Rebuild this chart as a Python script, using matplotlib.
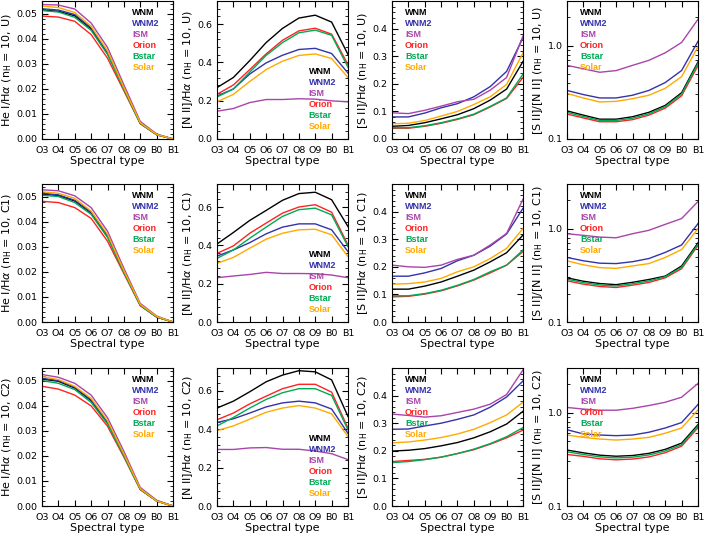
import matplotlib
matplotlib.use("Agg")
import matplotlib.pyplot as plt
from matplotlib.ticker import AutoMinorLocator, LogLocator, NullFormatter, FixedLocator

plt.rcParams['font.family'] = ['DejaVu Sans']

# Veriler
types = ["O3", "O4", "O5", "O6", "O7", "O8", "O9", "B0", "B1"]
models = ["WNM", "WNM2", "ISM", "Orion", "Bstar", "Solar"]
colors = ["#000000", "#3333aa", "#aa44aa", "#ff2222", "#00aa55", "#ffaa00"]

# He I / Halpha  (sira: WNM, WNM2, ISM, Orion, Bstar, Solar)
hei_U = [
    [0.0514, 0.0509, 0.0491, 0.0439, 0.0342, 0.0201, 0.0063, 0.0017, 0.0],
    [0.0519, 0.0514, 0.0496, 0.0443, 0.0345, 0.0203, 0.0064, 0.0018, 0.0],
    [0.0536, 0.0534, 0.0518, 0.0462, 0.0365, 0.0216, 0.0070, 0.0020, 0.0],
    [0.0490, 0.0486, 0.0469, 0.0416, 0.0322, 0.0192, 0.0061, 0.0017, 0.0],
    [0.0512, 0.0506, 0.0485, 0.0433, 0.0337, 0.0198, 0.0062, 0.0017, 0.0],
    [0.0530, 0.0524, 0.0504, 0.0449, 0.0351, 0.0205, 0.0065, 0.0018, 0.0],
]
hei_C1 = [
    [0.0510, 0.0504, 0.0482, 0.0435, 0.0342, 0.0201, 0.0067, 0.0020, 0.0],
    [0.0513, 0.0507, 0.0485, 0.0438, 0.0345, 0.0203, 0.0068, 0.0020, 0.0],
    [0.0527, 0.0523, 0.0503, 0.0456, 0.0362, 0.0214, 0.0074, 0.0024, 0.0],
    [0.0481, 0.0476, 0.0456, 0.0413, 0.0322, 0.0193, 0.0065, 0.0020, 0.0],
    [0.0505, 0.0500, 0.0476, 0.0429, 0.0337, 0.0198, 0.0066, 0.0020, 0.0],
    [0.0519, 0.0513, 0.0493, 0.0442, 0.0350, 0.0205, 0.0070, 0.0022, 0.0],
]
hei_C2 = [
    [0.0506, 0.0497, 0.0470, 0.0420, 0.0332, 0.0203, 0.0067, 0.0020, 0.0],
    [0.0509, 0.0500, 0.0473, 0.0423, 0.0335, 0.0205, 0.0068, 0.0020, 0.0],
    [0.0524, 0.0513, 0.0489, 0.0442, 0.0352, 0.0218, 0.0074, 0.0023, 0.0],
    [0.0477, 0.0466, 0.0442, 0.0399, 0.0318, 0.0195, 0.0065, 0.0020, 0.0],
    [0.0500, 0.0489, 0.0464, 0.0413, 0.0327, 0.0200, 0.0066, 0.0020, 0.0],
    [0.0516, 0.0504, 0.0477, 0.0429, 0.0340, 0.0208, 0.0069, 0.0020, 0.0],
]

# [N II] / Halpha
nii_U = [
    [0.268, 0.321, 0.409, 0.503, 0.577, 0.631, 0.646, 0.610, 0.441],
    [0.224, 0.261, 0.339, 0.397, 0.437, 0.467, 0.473, 0.446, 0.344],
    [0.145, 0.159, 0.190, 0.206, 0.206, 0.210, 0.208, 0.199, 0.194],
    [0.233, 0.282, 0.362, 0.444, 0.515, 0.564, 0.578, 0.547, 0.388],
    [0.219, 0.261, 0.349, 0.436, 0.503, 0.554, 0.568, 0.541, 0.374],
    [0.194, 0.233, 0.300, 0.362, 0.406, 0.436, 0.444, 0.420, 0.321],
]
nii_C1 = [
    [0.407, 0.467, 0.530, 0.582, 0.635, 0.670, 0.677, 0.638, 0.498],
    [0.344, 0.376, 0.414, 0.460, 0.495, 0.512, 0.512, 0.481, 0.367],
    [0.231, 0.240, 0.248, 0.259, 0.253, 0.253, 0.252, 0.245, 0.231],
    [0.358, 0.397, 0.463, 0.516, 0.568, 0.600, 0.612, 0.573, 0.402],
    [0.332, 0.376, 0.437, 0.495, 0.551, 0.586, 0.594, 0.559, 0.393],
    [0.306, 0.337, 0.385, 0.432, 0.463, 0.481, 0.484, 0.455, 0.341],
]
nii_C2 = [
    [0.511, 0.547, 0.596, 0.648, 0.683, 0.706, 0.700, 0.658, 0.467],
    [0.436, 0.455, 0.485, 0.517, 0.538, 0.547, 0.538, 0.506, 0.379],
    [0.295, 0.295, 0.303, 0.305, 0.296, 0.296, 0.287, 0.273, 0.242],
    [0.450, 0.485, 0.533, 0.573, 0.612, 0.635, 0.635, 0.594, 0.406],
    [0.418, 0.462, 0.511, 0.556, 0.591, 0.612, 0.612, 0.577, 0.397],
    [0.393, 0.418, 0.453, 0.489, 0.511, 0.524, 0.511, 0.481, 0.362],
]

# [S II] / Halpha
sii_U = [
    [0.046, 0.049, 0.059, 0.073, 0.088, 0.110, 0.141, 0.181, 0.281],
    [0.080, 0.080, 0.094, 0.113, 0.128, 0.153, 0.190, 0.245, 0.367],
    [0.095, 0.092, 0.104, 0.119, 0.135, 0.144, 0.177, 0.223, 0.373],
    [0.039, 0.039, 0.046, 0.057, 0.071, 0.088, 0.116, 0.147, 0.223],
    [0.041, 0.041, 0.048, 0.059, 0.073, 0.090, 0.118, 0.149, 0.235],
    [0.055, 0.057, 0.067, 0.083, 0.100, 0.125, 0.153, 0.198, 0.312],
]
sii_C1 = [
    [0.119, 0.119, 0.130, 0.145, 0.166, 0.188, 0.218, 0.251, 0.315],
    [0.166, 0.166, 0.178, 0.194, 0.222, 0.242, 0.275, 0.319, 0.412],
    [0.206, 0.200, 0.198, 0.206, 0.227, 0.242, 0.279, 0.321, 0.445],
    [0.091, 0.093, 0.101, 0.113, 0.131, 0.152, 0.178, 0.206, 0.255],
    [0.095, 0.095, 0.103, 0.115, 0.133, 0.154, 0.182, 0.206, 0.261],
    [0.137, 0.139, 0.145, 0.158, 0.182, 0.200, 0.230, 0.267, 0.339],
]
sii_C2 = [
    [0.199, 0.202, 0.208, 0.218, 0.230, 0.247, 0.269, 0.297, 0.343],
    [0.278, 0.279, 0.290, 0.300, 0.314, 0.330, 0.358, 0.395, 0.453],
    [0.333, 0.328, 0.322, 0.327, 0.339, 0.351, 0.369, 0.404, 0.493],
    [0.161, 0.165, 0.169, 0.177, 0.190, 0.204, 0.224, 0.247, 0.275],
    [0.157, 0.161, 0.168, 0.177, 0.190, 0.206, 0.226, 0.251, 0.284],
    [0.229, 0.232, 0.239, 0.248, 0.261, 0.278, 0.302, 0.330, 0.376],
]

# [S II] / [N II]
ratio_U = [
    [0.200, 0.180, 0.163, 0.163, 0.173, 0.193, 0.229, 0.313, 0.667],
    [0.331, 0.299, 0.275, 0.275, 0.294, 0.331, 0.402, 0.541, 1.11],
    [0.614, 0.564, 0.518, 0.540, 0.614, 0.695, 0.837, 1.08, 1.91],
    [0.185, 0.168, 0.153, 0.153, 0.161, 0.180, 0.214, 0.290, 0.610],
    [0.193, 0.174, 0.158, 0.158, 0.167, 0.186, 0.222, 0.303, 0.645],
    [0.307, 0.275, 0.249, 0.253, 0.270, 0.294, 0.349, 0.465, 0.975],
]
ratio_C1 = [
    [0.297, 0.273, 0.258, 0.251, 0.266, 0.285, 0.310, 0.398, 0.703],
    [0.491, 0.452, 0.426, 0.422, 0.442, 0.478, 0.556, 0.668, 1.13],
    [0.881, 0.846, 0.811, 0.797, 0.881, 0.958, 1.11, 1.28, 1.95],
    [0.276, 0.254, 0.240, 0.234, 0.248, 0.265, 0.297, 0.372, 0.660],
    [0.287, 0.264, 0.249, 0.243, 0.257, 0.275, 0.305, 0.385, 0.680],
    [0.452, 0.409, 0.382, 0.375, 0.398, 0.422, 0.491, 0.596, 1.00],
]
ratio_C2 = [
    [0.397, 0.371, 0.350, 0.341, 0.347, 0.366, 0.404, 0.471, 0.743],
    [0.655, 0.591, 0.575, 0.566, 0.575, 0.616, 0.684, 0.782, 1.22],
    [1.135, 1.09, 1.06, 1.06, 1.11, 1.19, 1.29, 1.46, 2.05],
    [0.356, 0.340, 0.320, 0.312, 0.318, 0.335, 0.372, 0.437, 0.690],
    [0.380, 0.356, 0.336, 0.327, 0.333, 0.352, 0.388, 0.453, 0.720],
    [0.575, 0.543, 0.521, 0.508, 0.521, 0.543, 0.601, 0.684, 1.07],
]

cases = ["U", "C1", "C2"]
panels = [
    [hei_U, nii_U, sii_U, ratio_U],
    [hei_C1, nii_C1, sii_C1, ratio_C1],
    [hei_C2, nii_C2, sii_C2, ratio_C2],
]
ylabels = [r"He I/H$\alpha$", r"[N II]/H$\alpha$", r"[S II]/H$\alpha$", r"[S II]/[N II]"]
ylims = [(0, 0.055), (0, 0.72), (0, 0.5), (0.1, 3.0)]
yticks = [[0, 0.01, 0.02, 0.03, 0.04, 0.05], [0, 0.2, 0.4, 0.6], [0, 0.1, 0.2, 0.3, 0.4], [0.1, 1.0]]
yfmt = ["%.2f", "%.1f", "%.1f", "%.1f"]
# legend: (x, ilk y) eksen koordinatlarinda
leg_pos = [(0.69, 0.92), (0.70, 0.49), (0.10, 0.92), (0.10, 0.92)]

W, H = 704, 537
fig = plt.figure(figsize=(W / 100, H / 100), dpi=100)
col_left = [42, 217, 392, 567]
row_top = [1, 184, 368]
ax_w, ax_h = 131, 138

x = list(range(len(types)))
for r in range(3):
    for c in range(4):
        ax = fig.add_axes([col_left[c] / W, 1 - (row_top[r] + ax_h) / H, ax_w / W, ax_h / H])
        for data, col in zip(panels[r][c], colors):
            ax.plot(x, data, color=col, lw=1.0)
        ax.set_xlim(0, 8)
        if c == 3:
            ax.set_yscale("log")
            ax.yaxis.set_major_locator(FixedLocator(yticks[c]))
            ax.yaxis.set_minor_locator(LogLocator(base=10, subs=range(2, 10)))
            ax.yaxis.set_minor_formatter(NullFormatter())
        else:
            ax.set_yticks(yticks[c])
            ax.yaxis.set_minor_locator(AutoMinorLocator(5))
        ax.set_ylim(*ylims[c])
        ax.set_yticklabels([yfmt[c] % v for v in yticks[c]])
        ax.set_xticks(x)
        ax.set_xticklabels(types)
        ax.tick_params(which="both", direction="in", top=True, right=True, labelsize=6.8)
        ax.tick_params(axis="x", pad=5)
        ax.tick_params(axis="y", pad=3)
        ax.tick_params(which="major", length=4)
        ax.tick_params(which="minor", length=2)
        ax.set_xlabel("Spectral type", fontsize=8, labelpad=1)
        ax.set_ylabel(ylabels[c] + r" (n$_\mathrm{H}$ = 10, " + cases[r] + ")", fontsize=8, labelpad=2)
        lx, ly = leg_pos[c]
        for i, (m, col) in enumerate(zip(models, colors)):
            ax.text(lx, ly - i * 0.08, m, color=col, transform=ax.transAxes,
                    fontsize=6.5, fontweight="bold", family="Liberation Sans", va="center")

fig.savefig("out.png", dpi=100)
